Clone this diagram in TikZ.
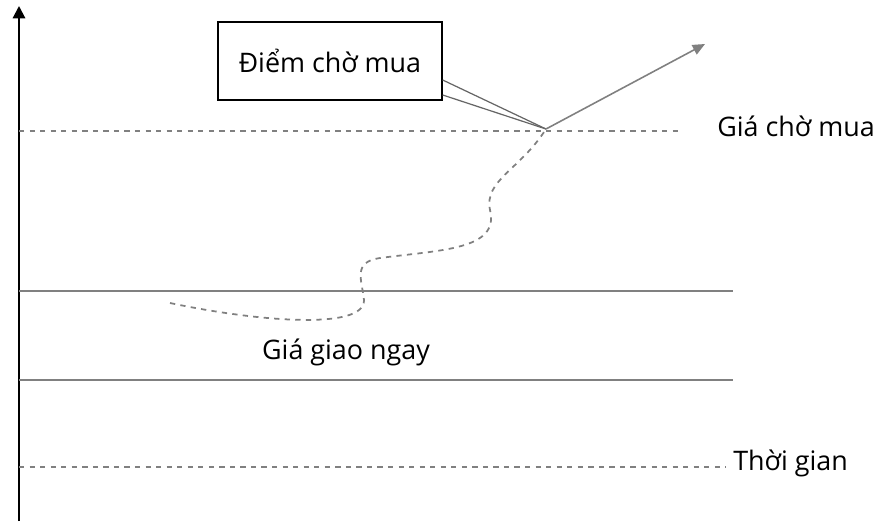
\documentclass[tikz,border=0pt]{standalone}
\usepackage{fontspec}
\setmainfont{Open Sans}
\usetikzlibrary{arrows.meta}

\begin{document}
\begin{tikzpicture}[x=0.02cm,y=-0.02cm,font=\fontsize{15.3}{18}\selectfont]
      \useasboundingbox (0,0) rectangle (879,521) ;
      \draw[line width=1.2pt,-{Triangle[length=7pt,width=7pt]}] (19,521)--(19,6) ;
      % hang ngang
      \draw[gray,dashed,line width=0.8pt] (19,131)--(680,131) ;
      \draw[gray,line width=0.8pt] (19,291)--(733,291) ;
      \draw[gray,line width=0.8pt] (19,380)--(733,380) ;
      \draw[gray,dashed,line width=0.8pt] (19,467)--(726,467) ;
      \node[anchor=west,inner sep=0pt] (cho) at (717,126) {Giá chờ mua} ;
      \node[anchor=west,inner sep=0pt] (tg) at (733,463) {Thời gian} ;
      \node (ngay) at (346,352) {Giá giao ngay} ;
      % diem cho mua
      \coordinate (P) at (546,129) ;
      \node[draw,thick,minimum width=4.48cm,minimum height=1.56cm] %
      (box) at (330,61) {Điểm chờ mua} ;
      \draw[gray!80!black,line width=0.7pt] (box.east |- 0,80)--(P) ;
      \draw[gray!80!black,line width=0.7pt] (box.east |- 0,95)--(P) ;
      \coordinate (Q) at (705,44) ;
      \draw[gray,line width=0.9pt,-{Triangle[length=7pt,width=6pt]}] (P)--(Q) ;
      \draw[gray,dashed,line width=1pt] (170,303) .. controls (260,322) and (365,330) .. %
      (364,300) .. controls (362,280) and (352,262) .. (380,258) .. controls (440,250) %
      and (500,250) .. (490,210) .. controls (484,180) and (520,170) .. (P) ;
    \end{tikzpicture}
\end{document}
